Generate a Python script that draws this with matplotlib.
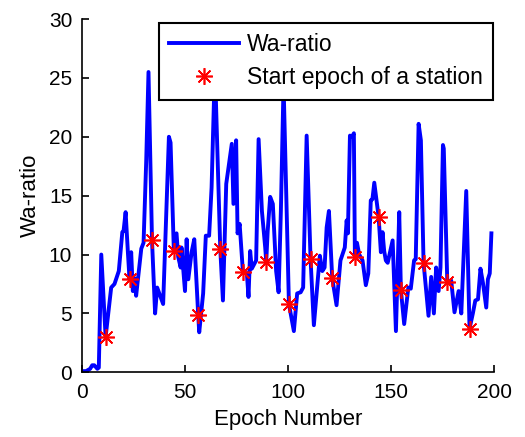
import matplotlib
matplotlib.use("Agg")
import matplotlib.pyplot as plt

plt.rcParams['font.family'] = ['Liberation Sans', 'DejaVu Sans']

# Wa-ratio curve vertices (epoch, value)
epoch = [0, 2, 4, 5, 6, 7.5, 8.2, 9.4, 11.5, 14.2, 15.8, 17.9, 19.6, 20.2, 21.2, 22.3, 23.1,
         23.9, 24.7, 25.5, 26.3, 28.8, 29.9, 31.2, 32.3, 34.0, 35.5, 36.5, 39.4, 42.2, 43.0,
         44.6, 45.9, 46.7, 47.9, 48.3, 50.0, 50.8, 51.6, 53.2, 54.5, 56.4, 56.9, 58.8, 60.1,
         61.7, 62.9, 64.5, 67.1, 68.4, 70.0, 72.7, 73.5, 74.8, 75.5, 76.5, 78.1, 80.0, 80.8,
         81.6, 82.4, 84.5, 85.7, 87.3, 88.9, 89.4, 90.1, 91.3, 92.6, 94.2, 95.4, 96.5, 97.8,
         100.4, 102.8, 104.4, 106.1, 107.3, 109.0, 110.9, 112.5, 114.1, 115.4, 116.6, 117.7,
         118.7, 119.8, 121.4, 123.5, 125.4, 127.5, 128.4, 129.0, 130.0, 131.1, 131.9, 132.4,
         133.4, 134.5, 136.1, 137.7, 138.9, 140.1, 140.9, 141.8, 143.9, 145.0, 145.8, 146.6,
         147.4, 148.3, 150.7, 152.3, 153.9, 154.7, 156.3, 158.3, 159.5, 161.1, 161.9, 163.3,
         164.4, 165.7, 168.1, 169.4, 170.7, 171.8, 173.0, 173.9, 175.1, 175.5, 177.2, 179.1,
         180.7, 182.7, 184.0, 186.4, 188.0, 189.6, 190.8, 192.1, 193.3, 194.5, 196.1, 196.9,
         197.8, 198.6]
ratio = [0.1, 0.1, 0.3, 0.6, 0.6, 0.3, 0.4, 10.0, 3.0, 7.2, 7.5, 8.6, 11.9, 12.0, 13.6, 10.2,
         7.9, 10.2, 6.9, 8.0, 6.5, 10.5, 11.0, 18.0, 25.5, 11.2, 5.0, 7.2, 5.8, 20.0, 19.5,
         10.3, 11.8, 9.8, 8.9, 10.6, 6.9, 11.3, 7.9, 10.2, 11.3, 4.9, 3.4, 6.7, 11.6, 11.6,
         15.7, 26.0, 10.5, 6.1, 16.0, 19.4, 14.3, 19.7, 11.8, 12.6, 8.5, 8.4, 6.4, 10.3, 8.8,
         9.5, 19.8, 13.7, 10.6, 9.4, 12.0, 14.9, 14.3, 8.6, 6.8, 13.7, 24.5, 5.8, 3.5, 6.7,
         6.8, 7.2, 20.1, 9.6, 4.0, 7.2, 9.9, 8.6, 8.9, 12.3, 13.7, 8.0, 5.7, 9.5, 10.6, 12.9,
         11.8, 20.1, 20.0, 20.3, 9.8, 11.0, 10.0, 9.5, 7.4, 8.4, 14.6, 14.7, 16.1, 13.2, 10.2,
         11.9, 10.3, 9.5, 9.3, 11.2, 3.5, 13.6, 7.0, 4.1, 7.2, 7.1, 9.5, 9.6, 21.1, 19.7, 9.3,
         4.8, 8.1, 5.0, 8.9, 6.9, 8.9, 19.3, 19.0, 7.7, 7.8, 5.1, 6.9, 5.0, 15.4, 3.7, 5.0,
         6.1, 6.2, 8.8, 7.6, 5.5, 7.9, 8.4, 11.8]

# Start epochs of stations
start_epoch = [11.5, 23.1, 34.0, 44.6, 56.4, 67.1, 78.1, 89.4, 100.4, 110.9, 121.4, 132.4,
               143.9, 154.7, 165.7, 177.2, 188.0]
start_ratio = [3.0, 7.9, 11.2, 10.3, 4.9, 10.5, 8.5, 9.4, 5.8, 9.6, 8.0, 9.8, 13.2, 7.0,
               9.3, 7.7, 3.7]

fig = plt.figure(figsize=(5.25, 4.37), dpi=100)
ax = fig.add_axes([0.156, 0.148, 0.7855, 0.8085])

ax.plot(epoch, ratio, color='#0000ff', lw=2.8, label='Wa-ratio', zorder=2)
ax.plot(start_epoch, start_ratio, linestyle='none', marker=(8, 2, 0), markersize=12,
        markeredgewidth=1.2, color='#ff0000', label='Start epoch of a station', zorder=3)

ax.set_xlim(0, 200)
ax.set_ylim(0, 30)
ax.set_xticks([0, 50, 100, 150, 200])
ax.set_yticks([0, 5, 10, 15, 20, 25, 30])
for s in ['top', 'right']:
    ax.spines[s].set_visible(False)
for s in ['left', 'bottom']:
    ax.spines[s].set_linewidth(1.2)
ax.tick_params(direction='in', length=5, width=1.2, labelsize=15, pad=8)
ax.tick_params(axis='y', pad=7)
ax.set_xlabel('Epoch Number', fontsize=16, labelpad=5)
ax.set_ylabel('Wa-ratio', fontsize=16, labelpad=6)

leg = ax.legend(loc='upper right', bbox_to_anchor=(0.9976, 0.9895), borderaxespad=0,
                fontsize=16.5, frameon=True, fancybox=False, edgecolor='black',
                handlelength=3.05, borderpad=0.45, labelspacing=0.45, handletextpad=0.34,
                framealpha=1)
leg.get_frame().set_linewidth(1.5)
leg.set_zorder(5)

fig.savefig('out.png', dpi=100)
